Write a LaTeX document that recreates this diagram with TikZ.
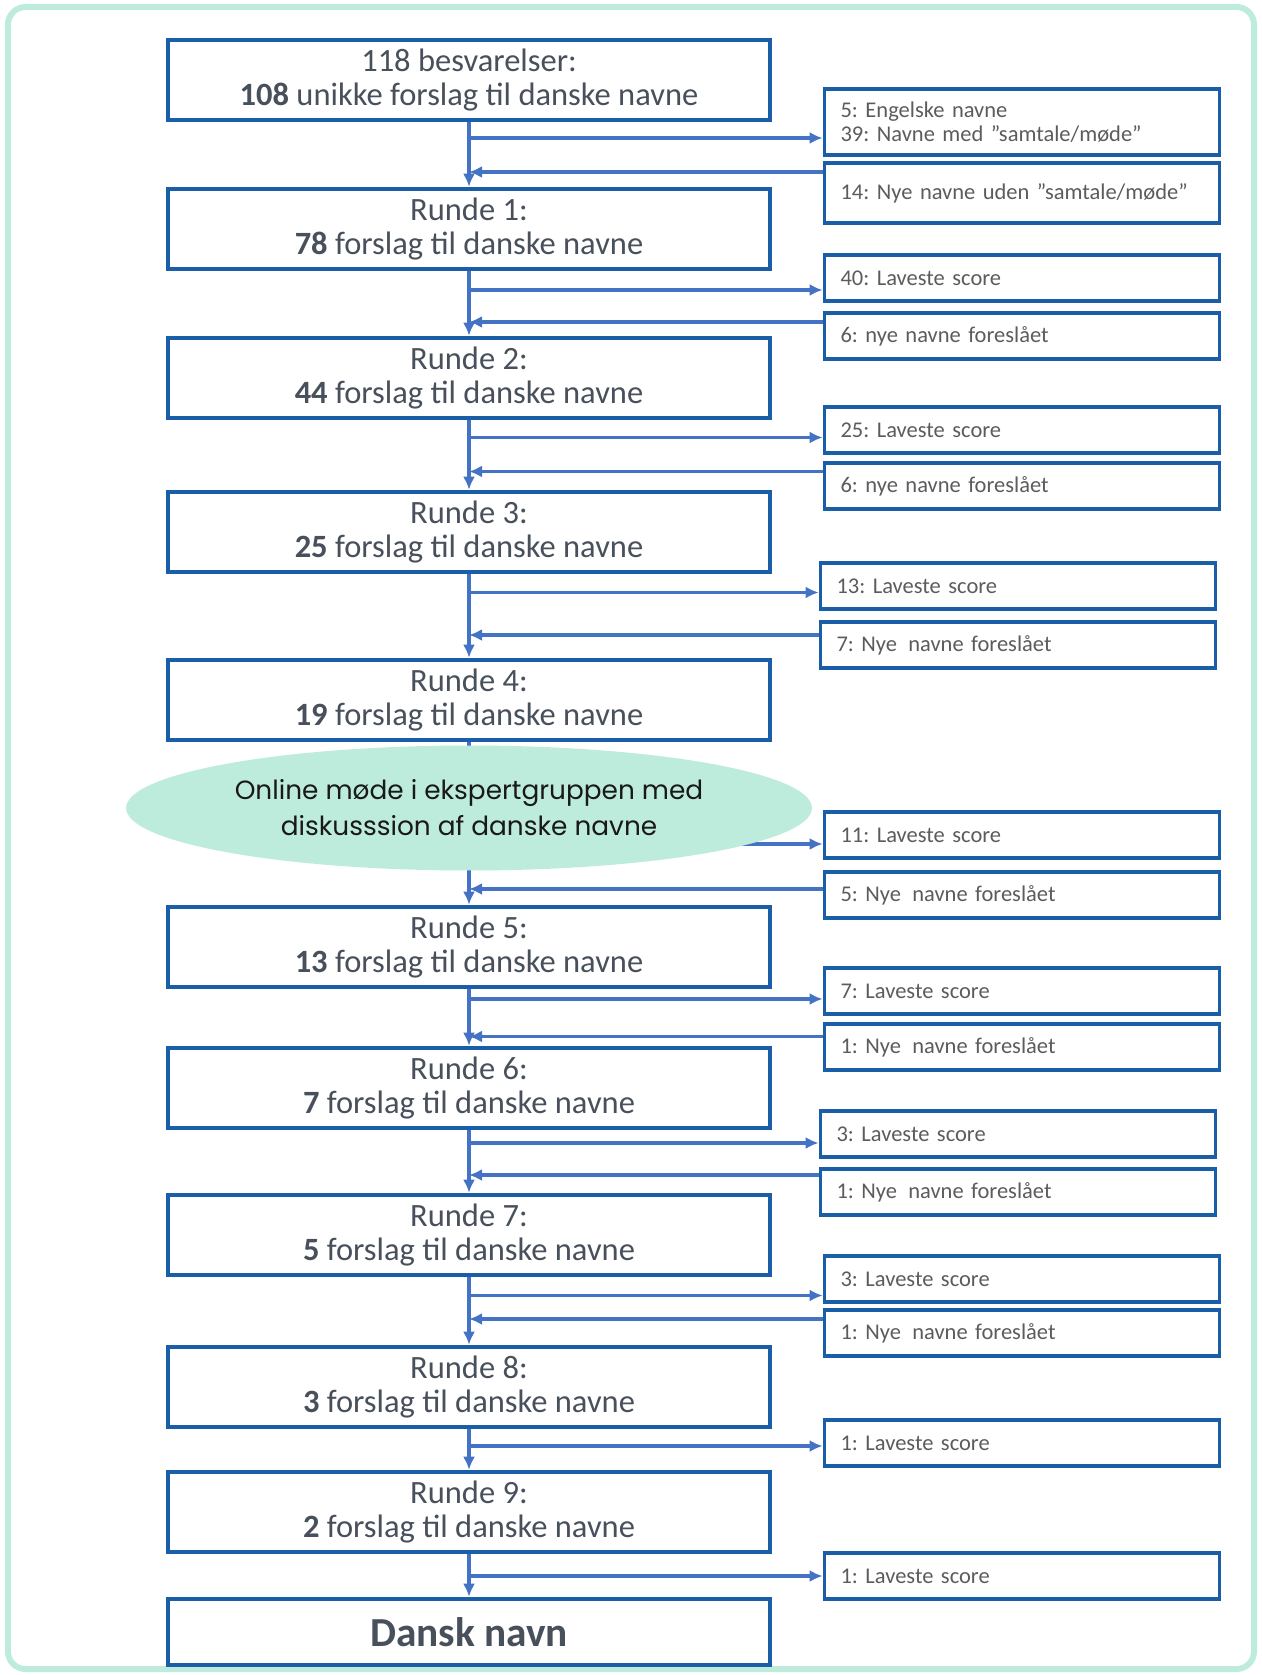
\documentclass[tikz,border=0pt]{standalone}
\usepackage{fontspec}
\setmainfont{Carlito}
\newfontfamily\ovalfont{Poppins}
\usepackage{tikz}
\usetikzlibrary{positioning}
\usetikzlibrary{arrows.meta}
\usetikzlibrary{shapes}
\definecolor{mint}{RGB}{190,236,220}
\definecolor{boxblue}{RGB}{27,94,168}
\definecolor{arrowblue}{RGB}{68,114,196}
\definecolor{maintxt}{RGB}{72,80,92}
\definecolor{sidetxt}{RGB}{92,92,92}
\frenchspacing

\begin{document}
\begin{tikzpicture}[x=0.02cm, y=-0.02cm, >={Latex[length=0.26cm,width=0.24cm]},
main/.style={draw=boxblue, line width=2.6pt, fill=white, minimum width=12.04cm, minimum height=1.6cm, inner sep=0pt, align=center, text=maintxt, font=\fontsize{18.5}{19.5}\selectfont},
side/.style={draw=boxblue, line width=2.2pt, fill=white, text width=7.26cm, inner xsep=0.32cm, inner ysep=0pt, minimum height=0.92cm, align=left, text=sidetxt, font=\fontsize{12.8}{14}\selectfont},
flow/.style={draw=arrowblue, line width=2.2pt, ->}]

\useasboundingbox (0,0) rectangle (1261,1675);
\draw[mint, line width=3.4pt, rounded corners=0.35cm] (8,7) rectangle (1254,1669);

\node [main] (b0) at (469,80) {118 besvarelser:\\\textbf{108} unikke forslag til danske navne};
\node [main] (b1) at (469,229) {Runde 1:\\\textbf{78} forslag til danske navne};
\node [main] (b2) at (469,378) {Runde 2:\\\textbf{44} forslag til danske navne};
\node [main] (b3) at (469,532) {Runde 3:\\\textbf{25} forslag til danske navne};
\node [main] (b4) at (469,700) {Runde 4:\\\textbf{19} forslag til danske navne};
\node [main] (b5) at (469,947) {Runde 5:\\\textbf{13} forslag til danske navne};
\node [main] (b6) at (469,1088) {Runde 6:\\\textbf{7} forslag til danske navne};
\node [main] (b7) at (469,1235) {Runde 7:\\\textbf{5} forslag til danske navne};
\node [main] (b8) at (469,1387) {Runde 8:\\\textbf{3} forslag til danske navne};
\node [main] (b9) at (469,1512) {Runde 9:\\\textbf{2} forslag til danske navne};
\node [main, minimum height=1.32cm, font=\fontsize{23.5}{26}\selectfont\bfseries] (bd) at (469,1632) {Dansk navn};

\node [side, minimum height=1.32cm] (s0a) at (1022,122) {5: Engelske navne\\39: Navne med ”samtale/møde”};
\node [side, minimum height=1.2cm] (s0b) at (1022,193) {14: Nye navne uden ”samtale/møde”};
\node [side] (s1a) at (1022,278) {40: Laveste score};
\node [side] (s1b) at (1022,336) {6: nye navne foreslået};
\node [side] (s2a) at (1022,430) {25: Laveste score};
\node [side] (s2b) at (1022,486) {6: nye navne foreslået};
\node [side] (s3a) at (1018,586) {13: Laveste score};
\node [side] (s3b) at (1018,645) {7: Nye\, navne foreslået};
\node [side] (s5a) at (1022,835) {11: Laveste score};
\node [side] (s5b) at (1022,895) {5: Nye\, navne foreslået};
\node [side] (s6a) at (1022,991) {7: Laveste score};
\node [side] (s6b) at (1022,1047) {1: Nye\, navne foreslået};
\node [side] (s7a) at (1018,1134) {3: Laveste score};
\node [side] (s7b) at (1018,1192) {1: Nye\, navne foreslået};
\node [side] (s8a) at (1022,1279) {3: Laveste score};
\node [side] (s8b) at (1022,1333) {1: Nye\, navne foreslået};
\node [side] (s9) at (1022,1443) {1: Laveste score};
\node [side] (s10) at (1022,1576) {1: Laveste score};

\coordinate (o0) at ([yshift=-0.32cm]s0a.west);
\coordinate (r0) at ([yshift=0.42cm]s0b.west);
\coordinate (o1) at ([yshift=-0.24cm]s1a.west);
\coordinate (r1) at ([yshift=0.28cm]s1b.west);
\coordinate (o2) at ([yshift=-0.15cm]s2a.west);
\coordinate (r2) at ([yshift=0.29cm]s2b.west);
\coordinate (o3) at ([yshift=-0.13cm]s3a.west);
\coordinate (r3) at ([yshift=0.2cm]s3b.west);
\coordinate (o5) at ([yshift=-0.18cm]s5a.west);
\coordinate (r5) at ([yshift=0.12cm]s5b.west);
\coordinate (o6) at ([yshift=-0.16cm]s6a.west);
\coordinate (r6) at ([yshift=0.21cm]s6b.west);
\coordinate (o7) at ([yshift=-0.18cm]s7a.west);
\coordinate (r7) at ([yshift=0.34cm]s7b.west);
\coordinate (o8) at ([yshift=-0.33cm]s8a.west);
\coordinate (r8) at ([yshift=0.28cm]s8b.west);
\coordinate (o9) at ([yshift=-0.06cm]s9.west);
\coordinate (o10) at (s10.west);

\draw [flow] (b0.south) -- (b1.north);
\draw [flow] (b0.south |- o0) -- (o0);
\draw [flow] (r0) -- (b0.south |- r0);

\draw [flow] (b1.south) -- (b2.north);
\draw [flow] (b1.south |- o1) -- (o1);
\draw [flow] (r1) -- (b1.south |- r1);

\draw [flow] (b2.south) -- (b3.north);
\draw [flow] (b2.south |- o2) -- (o2);
\draw [flow] (r2) -- (b2.south |- r2);

\draw [flow] (b3.south) -- (b4.north);
\draw [flow] (b3.south |- o3) -- (o3);
\draw [flow] (r3) -- (b3.south |- r3);

\draw [flow] (b4.south) -- (b5.north);
\draw [flow] (b4.south |- o5) -- (o5);
\draw [flow] (r5) -- (b4.south |- r5);

\draw [flow] (b5.south) -- (b6.north);
\draw [flow] (b5.south |- o6) -- (o6);
\draw [flow] (r6) -- (b5.south |- r6);

\draw [flow] (b6.south) -- (b7.north);
\draw [flow] (b6.south |- o7) -- (o7);
\draw [flow] (r7) -- (b6.south |- r7);

\draw [flow] (b7.south) -- (b8.north);
\draw [flow] (b7.south |- o8) -- (o8);
\draw [flow] (r8) -- (b7.south |- r8);

\draw [flow] (b8.south) -- (b9.north);
\draw [flow] (b8.south |- o9) -- (o9);

\draw [flow] (b9.south) -- (bd.north);
\draw [flow] (b9.south |- o10) -- (o10);

\node [ellipse, fill=mint, minimum width=13.72cm, minimum height=2.5cm, inner sep=0pt, align=center, text=black!90, font=\ovalfont\fontsize{15}{20.4}\selectfont] (e) at (469,808) {Online møde i ekspertgruppen med\\diskusssion af danske navne};

\end{tikzpicture}
\end{document}
